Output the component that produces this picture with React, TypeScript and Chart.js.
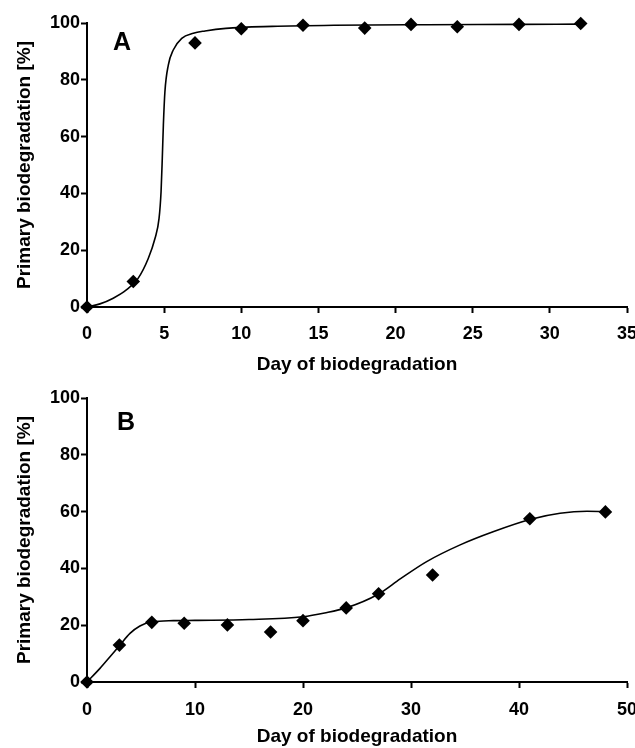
import React, { useEffect, useRef } from "react";
import { Chart, registerables } from "chart.js";

Chart.register(...registerables);

// Panel A data
const daysA = [0, 3, 7, 10, 14, 18, 21, 24, 28, 32];
const degA = [0, 9, 93, 98, 99.2, 98.2, 99.5, 98.7, 99.5, 99.8];
// Panel A fitted curve
const fitDaysA = [0, 0.84, 1.7, 2.55, 3.3, 3.97, 4.41, 4.67, 4.8, 4.88, 4.95, 5.05, 5.27, 5.59, 6.14, 6.89, 7.65, 9, 12, 16, 22, 28, 32];
const fitA = [0, 1.1, 3.1, 6, 10, 17.1, 24.2, 31.2, 40.6, 52.4, 64.1, 75.8, 85.2, 90.5, 94.6, 96.4, 97.2, 98.1, 98.8, 99.2, 99.4, 99.5, 99.6];

// Panel B data
const daysB = [0, 3, 6, 9, 13, 17, 20, 24, 27, 32, 41, 48];
const degB = [0, 13, 21, 20.7, 20.1, 17.6, 21.6, 26.1, 31.1, 37.7, 57.5, 59.9];
// Panel B fitted curve
const fitDaysB = [0, 1.2, 2.13, 3, 3.98, 4.9, 6, 8, 10, 15, 20, 22, 24, 27, 29, 31.45, 34.5, 37.6, 41.1, 43.8, 46.3, 48];
const fitB = [0, 4.8, 8.9, 12.8, 17.1, 19.7, 21.2, 21.6, 21.7, 22, 23, 24.3, 26.1, 31, 36.3, 42.4, 48.2, 52.9, 57.3, 59.4, 60.1, 60];

const xTitle = "Day of biodegradation";
const yTitle = "Primary biodegradation [%]";

const FONT = '"Liberation Sans", Arial, sans-serif';

type PanelProps = {
  days: number[];
  deg: number[];
  fitDays: number[];
  fit: number[];
  xMax: number;
  xStep: number;
  letter: string;
  letterDx: number;
  letterDy: number;
  padTop: number;
  xAxisHeight: number;
  tickPad: number;
  titlePad: number;
};

function Panel(p: PanelProps) {
  const ref = useRef<HTMLCanvasElement | null>(null);
  useEffect(() => {
    if (!ref.current) return;
    const letterPlugin = {
      id: "panelLetter",
      afterDraw(chart: any) {
        const { ctx, chartArea } = chart;
        ctx.save();
        ctx.font = `bold 25px ${FONT}`;
        ctx.fillStyle = "#000";
        ctx.textBaseline = "alphabetic";
        ctx.textAlign = "left";
        ctx.fillText(p.letter, chartArea.left + p.letterDx, chartArea.top + p.letterDy);
        ctx.restore();
      },
    };
    const chart = new Chart(ref.current, {
      type: "scatter",
      data: {
        datasets: [
          {
            data: p.fitDays.map((x, i) => ({ x, y: p.fit[i] })),
            showLine: true,
            borderColor: "#000",
            borderWidth: 1.6,
            pointRadius: 0,
            cubicInterpolationMode: "monotone",
            clip: false,
          } as any,
          {
            data: p.days.map((x, i) => ({ x, y: p.deg[i] })),
            showLine: false,
            pointStyle: "rectRot",
            pointRadius: 6.8,
            backgroundColor: "#000",
            borderColor: "#000",
            borderWidth: 0,
            clip: false,
          } as any,
        ],
      },
      options: {
        responsive: false,
        animation: false,
        layout: { padding: { top: p.padTop, right: 8, left: 0, bottom: 0 } },
        plugins: { legend: { display: false }, tooltip: { enabled: false } },
        scales: {
          x: {
            type: "linear",
            min: 0,
            max: p.xMax,
            afterFit(scale: any) {
              scale.height = p.xAxisHeight;
              scale.paddingLeft = 0;
              scale.paddingRight = 0;
            },
            ticks: {
              stepSize: p.xStep,
              color: "#000",
              padding: p.tickPad,
              font: { family: FONT, size: 18, weight: "bold" },
              maxRotation: 0,
            },
            grid: {
              display: true,
              drawOnChartArea: false,
              drawTicks: true,
              tickLength: 6,
              tickWidth: 2,
              tickColor: "#000",
            },
            border: { display: true, color: "#000", width: 2 },
            title: {
              display: true,
              text: xTitle,
              color: "#000",
              font: { family: FONT, size: 19, weight: "bold", lineHeight: 1 },
              padding: { top: 0, bottom: p.titlePad },
            },
          },
          y: {
            type: "linear",
            min: 0,
            max: 100,
            afterFit(scale: any) {
              scale.width = 87;
              scale.paddingTop = 0;
              scale.paddingBottom = 0;
            },
            ticks: {
              stepSize: 20,
              color: "#000",
              padding: 1,
              font: { family: FONT, size: 18, weight: "bold" },
            },
            grid: {
              display: true,
              drawOnChartArea: false,
              drawTicks: true,
              tickLength: 6,
              tickWidth: 2,
              tickColor: "#000",
            },
            border: { display: true, color: "#000", width: 2 },
            title: {
              display: true,
              text: yTitle,
              color: "#000",
              font: { family: FONT, size: 19, weight: "bold", lineHeight: 1 },
              padding: { top: 15, bottom: 0 },
            },
          },
        },
      } as any,
      plugins: [letterPlugin],
    });
    return () => chart.destroy();
  }, []);
  return (
    <div style={{ width: 635, height: 374, position: "relative" }}>
      <canvas ref={ref} width={635} height={374} style={{ display: "block", width: 635, height: 374 }} />
    </div>
  );
}

export default function App() {
  return (
    <div style={{ position: "absolute", left: 0, top: 0, width: 635, height: 748, background: "#fff" }}>
      <Panel
        days={daysA}
        deg={degA}
        fitDays={fitDaysA}
        fit={fitA}
        xMax={35}
        xStep={5}
        letter="A"
        letterDx={26}
        letterDy={27}
        padTop={23}
        xAxisHeight={67}
        tickPad={10}
        titlePad={0}
      />
      <Panel
        days={daysB}
        deg={degB}
        fitDays={fitDaysB}
        fit={fitB}
        xMax={50}
        xStep={10}
        letter="B"
        letterDx={30}
        letterDy={32}
        padTop={24}
        xAxisHeight={66}
        tickPad={11}
        titlePad={2}
      />
    </div>
  );
}
